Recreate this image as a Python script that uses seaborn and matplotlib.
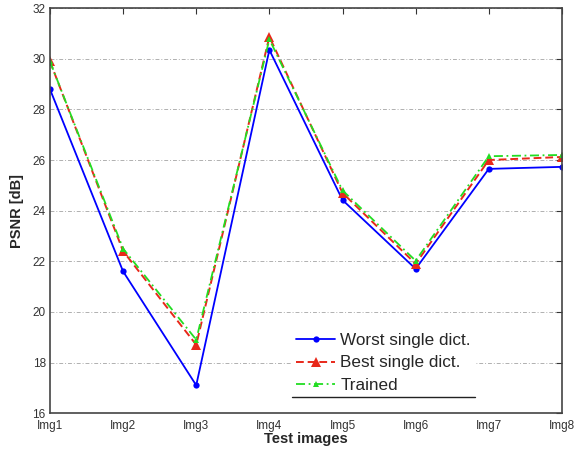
import matplotlib
matplotlib.use("Agg")
import matplotlib.pyplot as plt
import seaborn as sns
import numpy as np
import pandas as pd
from matplotlib.lines import Line2D

images = ["Img1", "Img2", "Img3", "Img4", "Img5", "Img6", "Img7", "Img8"]
worst = [28.8, 21.6, 17.1, 30.35, 24.42, 21.7, 25.65, 25.73]
best = [29.9, 22.4, 18.7, 30.87, 24.7, 21.9, 26.0, 26.12]
trained = [29.9, 22.5, 18.9, 30.77, 24.8, 22.02, 26.15, 26.2]
series_names = ["Worst single dict.", "Best single dict.", "Trained"]
yticks = [16, 18, 20, 22, 24, 26, 28, 30, 32]

sns.set_theme(style="white")
plt.rcParams['font.family'] = ['Liberation Sans', 'DejaVu Sans']

fig = plt.figure(figsize=(5.74, 4.53), dpi=100)
ax = fig.add_axes([0.087, 0.088, 0.892, 0.894])

pos = np.arange(len(images))
df = pd.DataFrame({"pos": pos, "worst": worst, "best": best, "trained": trained})

sns.lineplot(data=df, x="pos", y="worst", ax=ax, color="#0000ff", lw=1.3,
             marker="o", markersize=4.5, markeredgewidth=0, label=series_names[0])
sns.lineplot(data=df, x="pos", y="best", ax=ax, color="#e8281a", lw=1.4,
             linestyle=(0, (4, 2)), marker="^", markersize=6.5, markeredgewidth=0,
             label=series_names[1])
sns.lineplot(data=df, x="pos", y="trained", ax=ax, color="#22dd22", lw=1.3,
             linestyle=(0, (5, 2, 1, 2)), marker="^", markersize=4, markeredgewidth=0,
             label=series_names[2])

ax.set_xlim(0, 7)
ax.set_ylim(16, 32)
ax.set_xticks(pos)
ax.set_xticklabels(images)
ax.set_yticks(yticks)
ax.set_yticklabels([str(t) for t in yticks])
ax.tick_params(axis="both", direction="in", length=4, width=0.8, labelsize=8.5,
               top=True, right=True, color="#333333", labelcolor="#333333")
ax.tick_params(axis="x", pad=5)
ax.tick_params(axis="y", pad=3)
ax.yaxis.grid(True, linestyle=(0, (4, 2, 1, 2)), color="#b0b0b0", lw=0.7)
ax.xaxis.grid(False)
for s in ax.spines.values():
    s.set_color("#444444")
    s.set_linewidth(1.2)

ax.set_xlabel("Test images", fontsize=10.5, fontweight="bold", labelpad=0)
ax.set_ylabel("PSNR [dB]", fontsize=10.5, fontweight="bold", labelpad=6)

leg = ax.legend(loc="lower left", bbox_to_anchor=(0.472, 0.04), borderaxespad=0,
                fontsize=12.3, frameon=True, facecolor="white", edgecolor="white",
                framealpha=1, handlelength=2.3, handletextpad=0.3, borderpad=0.25,
                labelspacing=0.42, fancybox=False)

fig.canvas.draw()
bb = leg.get_window_extent().transformed(fig.transFigure.inverted())
fig.add_artist(Line2D([bb.x0, bb.x1], [bb.y0, bb.y0], transform=fig.transFigure,
                      color="#222222", lw=1.0))

fig.savefig("out.png", dpi=100)
